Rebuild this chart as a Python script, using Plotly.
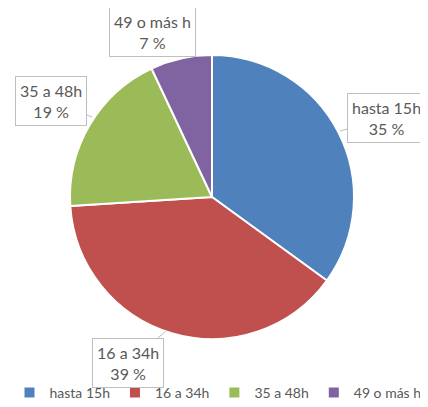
import plotly.graph_objects as go

categories = ["hasta 15h", "16 a 34h", "35 a 48h", "49 o más h"]
values = [35, 39, 19, 7]
colors = ["#4F81BD", "#C0504D", "#9BBB59", "#8064A2"]

# the page adds an 8 px body margin, so the figure is 8 px smaller each way
W, H = 420, 399
OFF = 8
FONT = "Lato"
TXT = "#595959"


def px(x):
    return (x - OFF) / W


def py(y):
    return 1 - (y - OFF) / H


fig = go.Figure(go.Pie(
    labels=categories, values=values, sort=False, direction="clockwise", rotation=0,
    marker=dict(colors=colors, line=dict(color="white", width=2)),
    textinfo="none", hoverinfo="label+percent",
    domain=dict(x=[px(69), px(355)], y=[py(339), py(55)]),
))

# callout boxes in reference pixels: (tip x, tip y, box center x, box center y, arrow)
callouts = [
    (340, 131, 386, 118, True),
    (166, 331, 128, 363, True),
    (92, 117, 51, 101, True),
    (152, 32, 152, 32, False),
]
for (cat, v, (tx, ty, bx, by, arr)) in zip(categories, values, callouts):
    fig.add_annotation(
        x=px(tx), y=py(ty), xref="paper", yref="paper",
        xanchor="center", yanchor="middle",
        text=f"{cat}<br>{v} %", showarrow=arr, arrowhead=0, arrowwidth=1,
        arrowcolor="#BFBFBF", ax=bx - tx, ay=by - ty,
        font=dict(family=FONT, size=16, color=TXT),
        bgcolor="white", bordercolor="#BFBFBF", borderwidth=1, borderpad=4,
        align="center",
    )

fig.update_layout(
    width=W, height=H, margin=dict(l=0, r=0, t=0, b=0, autoexpand=False),
    paper_bgcolor="white", plot_bgcolor="white",
    font=dict(family=FONT, size=16, color=TXT),
    showlegend=True,
    legend=dict(orientation="h", x=0.5, xanchor="center", y=py(393), yanchor="middle",
                font=dict(family=FONT, size=14, color=TXT), itemwidth=30,
                tracegroupgap=0),
)

fig.write_html("out.html")
